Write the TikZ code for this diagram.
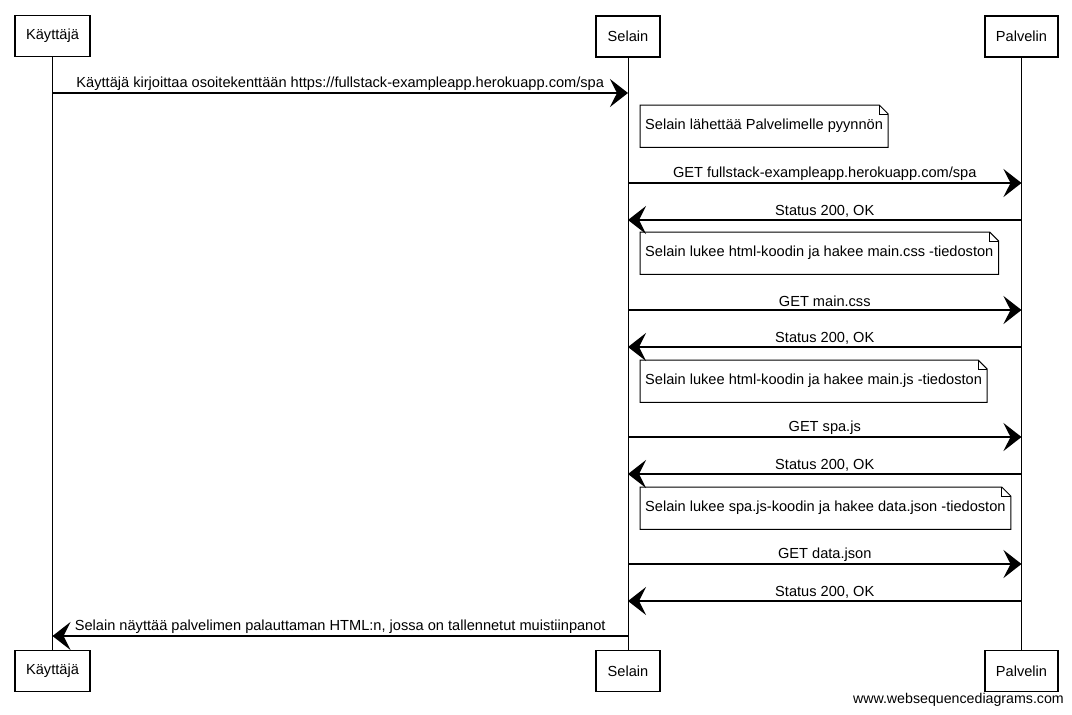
\documentclass[tikz,border=0pt]{standalone}
\usepackage{fontspec}
\setmainfont{Liberation Sans}
\usetikzlibrary{arrows.meta,calc}
\begin{document}
\begin{tikzpicture}[x=1pt,y=-1pt,
  txt/.style={font=\fontsize{14.6}{17}\selectfont},
  actor/.style={txt,draw,line width=1.1pt,minimum height=41pt,inner sep=0pt},
  life/.style={line width=0.9pt},
  msg/.style={line width=1.4pt,-{Stealth[length=18pt,width=28pt,inset=7pt]}},
  lbl/.style={txt,midway,above,inner sep=2.2pt},
  notebox/.style={txt,anchor=north west,minimum height=42pt,inner xsep=5pt,inner ysep=0pt,align=left},
  noteline/.style={line width=1pt}
]
\useasboundingbox (0,0) rectangle (1072,715);

% participants, top and bottom
\node[actor,minimum width=75pt] (kt) at (52.5,36) {Käyttäjä};
\node[actor,minimum width=64pt] (st) at (628,36.5) {Selain};
\node[actor,minimum width=73pt] (pt) at (1021.5,36.5) {Palvelin};
\node[actor,minimum width=75pt] (kb) at (52.5,671) {Käyttäjä};
\node[actor,minimum width=64pt] (sb) at (628,671) {Selain};
\node[actor,minimum width=73pt] (pb) at (1021.5,671) {Palvelin};

% lifelines
\draw[life] (kt) -- (kb);
\draw[life] (st) -- (sb);
\draw[life] (pt) -- (pb);

% note with folded corner
\newcommand{\foldnote}[1]{%
  \draw[noteline] (#1.north west) -- ($(#1.north east)+(-9,0)$) -- ($(#1.north east)+(0,9)$)
    -- (#1.south east) -- (#1.south west) -- cycle;
  \draw[line width=0.7pt] ($(#1.north east)+(-9,0)$) -- ($(#1.north east)+(-9,9)$) -- ($(#1.north east)+(0,9)$);
}

% messages
\draw[msg] (kt |- 0,93) -- (st |- 0,93)
  node[lbl] {Käyttäjä kirjoittaa osoitekenttään https://fullstack-exampleapp.herokuapp.com/spa};

\node[notebox] (n1) at (640,105) {Selain lähettää Palvelimelle pyynnön};
\foldnote{n1}

\draw[msg] (st |- 0,183) -- (pt |- 0,183)
  node[lbl] {GET fullstack-exampleapp.herokuapp.com/spa};
\draw[msg] (pt |- 0,220) -- (st |- 0,220)
  node[lbl] {Status 200, OK};

\node[notebox] (n2) at (640,232) {Selain lukee html-koodin ja hakee main.css -tiedoston};
\foldnote{n2}

\draw[msg] (st |- 0,310) -- (pt |- 0,310)
  node[lbl] {GET main.css};
\draw[msg] (pt |- 0,347) -- (st |- 0,347)
  node[lbl] {Status 200, OK};

\node[notebox] (n3) at (640,360) {Selain lukee html-koodin ja hakee main.js -tiedoston};
\foldnote{n3}

\draw[msg] (st |- 0,437) -- (pt |- 0,437)
  node[lbl] {GET spa.js};
\draw[msg] (pt |- 0,474) -- (st |- 0,474)
  node[lbl] {Status 200, OK};

\node[notebox] (n4) at (640,487) {Selain lukee spa.js-koodin ja hakee data.json -tiedoston};
\foldnote{n4}

\draw[msg] (st |- 0,564) -- (pt |- 0,564)
  node[lbl] {GET data.json};
\draw[msg] (pt |- 0,601) -- (st |- 0,601)
  node[lbl] {Status 200, OK};

\draw[msg] (st |- 0,636) -- (kt |- 0,636)
  node[lbl] {Selain näyttää palvelimen palauttaman HTML:n, jossa on tallennetut muistiinpanot};

% footer
\node[font=\fontsize{14.2}{17}\selectfont,anchor=east,inner sep=0pt] (wm) at (1064,700) {www.websequencediagrams.com};
\end{tikzpicture}
\end{document}
